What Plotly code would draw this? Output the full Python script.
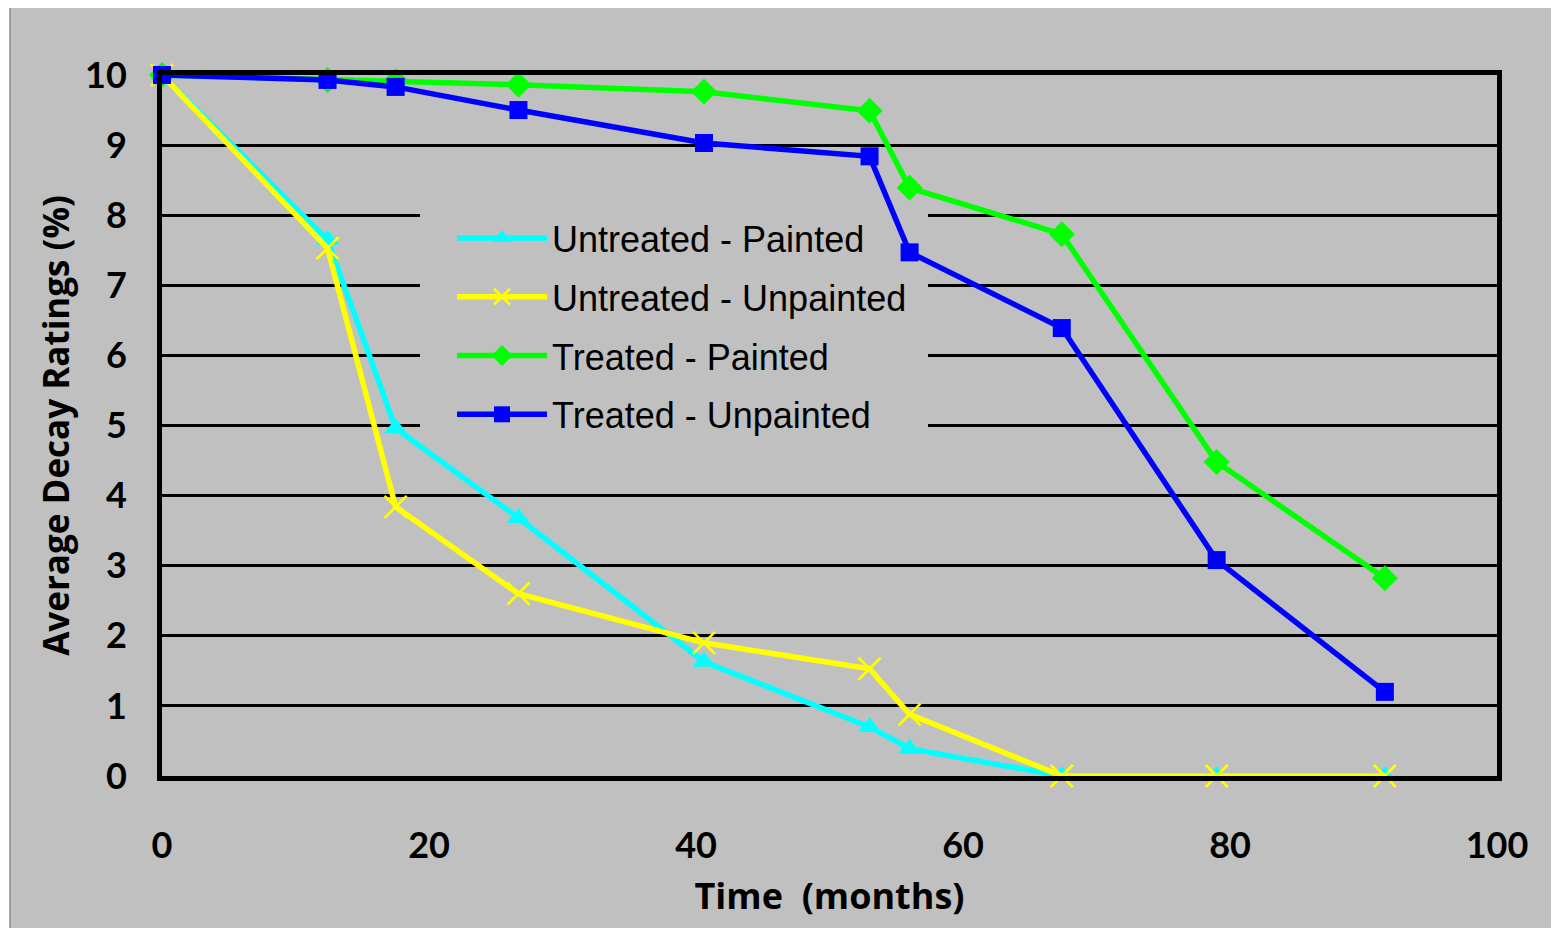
import plotly.graph_objects as go

time_months = [0, 12.4, 17.5, 26.7, 40.6, 53.0, 56.0, 67.4, 79.0, 91.6]
untreated_painted = [10, 7.65, 4.96, 3.68, 1.63, 0.70, 0.39, 0, 0, 0]
untreated_unpainted = [10, 7.53, 3.84, 2.60, 1.90, 1.53, 0.88, 0, 0, 0]
treated_painted = [10, 9.93, 9.91, 9.86, 9.76, 9.49, 8.39, 7.73, 4.48, 2.82]
treated_unpainted = [10, 9.93, 9.83, 9.50, 9.03, 8.84, 7.47, 6.39, 3.08, 1.20]

x_ticks = [0, 20, 40, 60, 80, 100]
y_ticks = list(range(0, 11))
X_RANGE = [0, 100]
Y_RANGE = [0, 10]

series = [
    ("Untreated - Painted", untreated_painted, "#00FFFF", "triangle-up", 20, None),
    ("Untreated - Unpainted", untreated_unpainted, "#FFFF00", "x-thin-open", 22, 2.5),
    ("Treated - Painted", treated_painted, "#00FF00", "diamond", 20, None),
    ("Treated - Unpainted", treated_unpainted, "#0000FF", "square", 18, None),
]

fig = go.Figure()
for i, (name, vals, color, sym, size, mlw) in enumerate(series):
    marker = dict(symbol=sym, size=size, color=color)
    if mlw:
        marker["line"] = dict(color=color, width=mlw)
    fig.add_trace(go.Scatter(x=time_months, y=vals, name=name, mode="lines+markers",
                             legendgroup=f"g{i}",
                             line=dict(color=color, width=5.5), marker=marker,
                             cliponaxis=False))

# page body has an 8px margin; target screen geometry: plot x 162..1497, y 75..776
OFF = 8
SL, SR, ST, SB = 162, 1497, 75, 776
pw, ph = SR - SL, SB - ST
W, H = 1559, 928
L, T = SL - OFF, ST - OFF
R = W - L - pw
B = H - T - ph


def px(xs):
    return (xs - SL) / pw


def py(ys):
    return (SB - ys) / ph


def dx(xs):
    return X_RANGE[0] + px(xs) * (X_RANGE[1] - X_RANGE[0])


def dy(ys):
    return Y_RANGE[0] + py(ys) * (Y_RANGE[1] - Y_RANGE[0])


# gray chart area with thin border (white strip at left/top)
fig.add_shape(type="rect", xref="paper", yref="paper", layer="below",
              x0=px(10), x1=px(1575), y0=py(945), y1=py(5),
              fillcolor="#C0C0C0", line=dict(color="#8C8C8C", width=1.5))
# legend background box: above gridlines, below data lines
fig.add_shape(type="rect", xref="x", yref="y", layer="between",
              x0=dx(420), x1=dx(928), y0=dy(452), y1=dy(200),
              fillcolor="#C0C0C0", line=dict(width=0))

fig.update_layout(
    width=W, height=H,
    margin=dict(l=L, r=R, t=T, b=B),
    paper_bgcolor="white", plot_bgcolor="#C0C0C0",
    showlegend=True,
    legend=dict(x=px(452), y=py(208), xanchor="left", yanchor="top",
                bgcolor="rgba(0,0,0,0)", borderwidth=0,
                font=dict(family="Liberation Sans Narrow, Arial Narrow, Liberation Sans", size=36, color="black"),
                itemwidth=90, tracegroupgap=9),
    xaxis=dict(range=X_RANGE, tickvals=x_ticks, showgrid=False, zeroline=False,
               showline=True, linecolor="black", linewidth=5, mirror=True,
               ticks="outside", ticklen=34, tickcolor="rgba(0,0,0,0)",
               tickfont=dict(family="Lato", size=36, color="black", weight="bold"),
               title=dict(text="<b>Time\u00a0\u00a0(months)</b>", standoff=20,
                          font=dict(family="Open Sans", size=36, color="black"))),
    yaxis=dict(range=Y_RANGE, tickvals=y_ticks, showgrid=True, gridcolor="black", gridwidth=3,
               zeroline=False, showline=True, linecolor="black", linewidth=5, mirror=True,
               ticks="outside", ticklen=23, tickcolor="rgba(0,0,0,0)",
               tickfont=dict(family="Lato", size=36, color="black", weight="bold"),
               title=dict(text="<b>Average Decay Ratings (%)</b>", standoff=6,
                          font=dict(family="Open Sans", size=35, color="black"))),
)

fig.write_html("out.html")
